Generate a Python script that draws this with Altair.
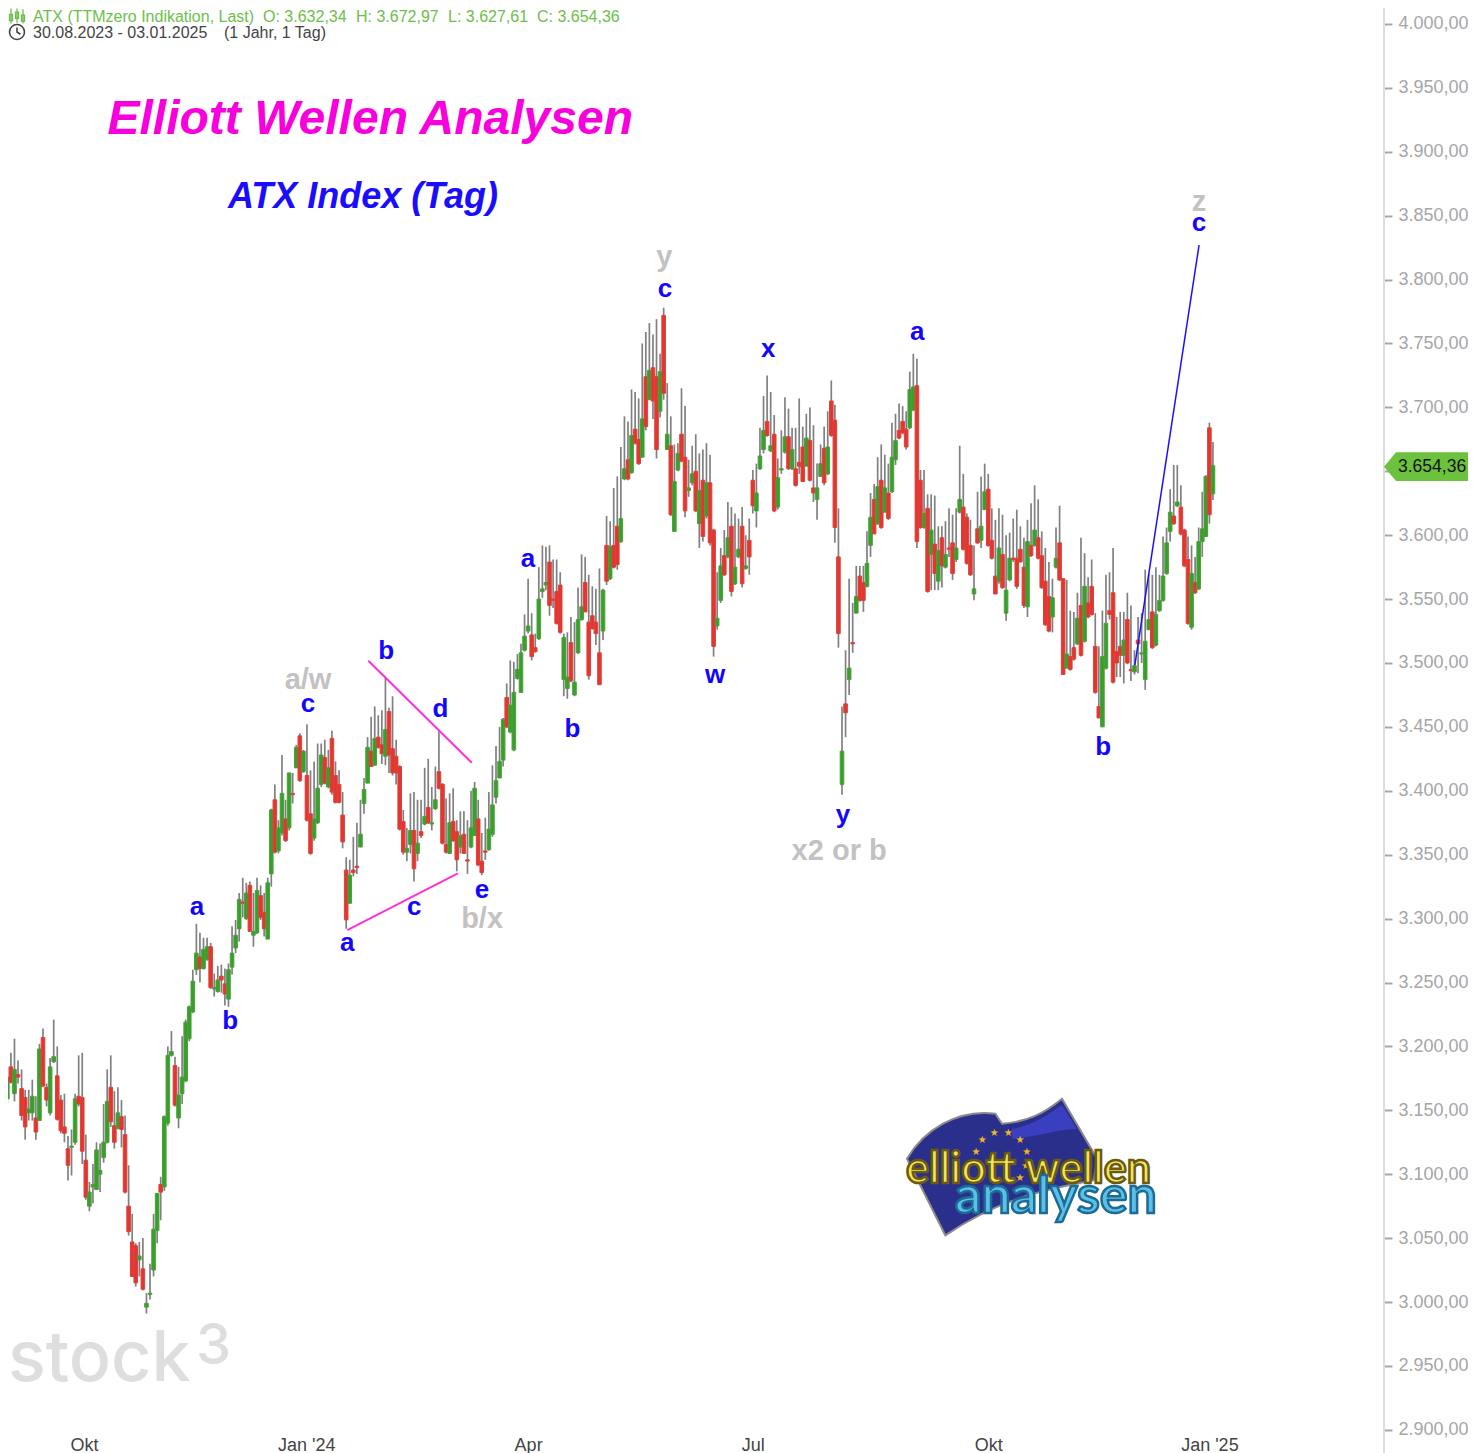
import altair as alt
import pandas as pd

opens = [3153,
3170,3159,3184,3163,3178,3167,3160,3148,3148,3144,
3142,3207,3168,3148,3188,3177,3158,3137,3120,3121,
3125,3161,3160,3111,3075,3090,3088,3100,3113,3125,
3168,3138,3136,3145,3131,3075,3047,3044,3033,3026,
2996,3006,3025,3056,3092,3090,3140,3193,3185,3144,
3163,3173,3206,3227,3260,3270,3261,3268,3278,3245,
3243,3255,3249,3237,3262,3277,3292,3313,3300,3326,
3287,3289,3318,3305,3284,3335,3393,3353,3367,3378,
3371,3398,3418,3443,3415,3412,3382,3363,3375,3405,
3426,3403,3441,3412,3405,3381,3338,3312,3338,3341,
3356,3390,3406,3431,3420,3442,3436,3427,3462,3433,
3427,3419,3376,3352,3358,3369,3351,3368,3374,3387,
3374,3386,3415,3405,3358,3351,3376,3368,3356,3366,
3346,3356,3365,3378,3345,3353,3354,3366,3395,3410,
3424,3473,3446,3432,3488,3477,3510,3525,3522,3512,
3519,3556,3561,3579,3550,3556,3561,3487,3480,3516,
3475,3508,3534,3563,3532,3537,3532,3508,3525,3592,
3566,3592,3607,3595,3644,3659,3649,3683,3675,3661,
3724,3706,3731,3724,3697,3772,3667,3670,3603,3651,
3679,3661,3635,3641,3650,3609,3643,3615,3641,3604,
3529,3549,3584,3583,3607,3562,3583,3607,3574,3596,
3643,3619,3652,3667,3689,3666,3679,3622,3651,3665,
3677,3652,3652,3657,3669,3654,3674,3637,3628,3646,
3668,3648,3705,3690,3583,3405,3468,3487,3516,3539,
3568,3563,3560,3592,3628,3609,3643,3618,3633,3634,
3659,3682,3689,3683,3684,3698,3717,3643,3606,3621,
3585,3593,3564,3598,3575,3590,3594,3581,3618,3622,
3614,3592,3554,3605,3596,3620,3636,3596,3568,3564,
3585,3539,3565,3582,3582,3589,3575,3544,3592,3592,
3598,3584,3564,3552,3536,3575,3594,3566,3496,3505,
3512,3515,3545,3517,3547,3560,3513,3466,3450,3496,
3541,3555,3509,3513,3506,3534,3495,3493,3518,3507,
3487,3526,3540,3514,3541,3549,3570,3603,3615,3623,
3622,3604,3581,3528,3563,3558,3595,3599,3684,3632.34]

highs = [3180,
3184,3184,3195,3206,3189,3182,3166,3166,3174,3161,
3202,3214,3171,3191,3221,3200,3162,3163,3130,3135,
3163,3193,3195,3131,3094,3108,3125,3124,3155,3182,
3193,3165,3168,3158,3146,3107,3069,3046,3047,3050,
3007,3030,3069,3085,3098,3146,3200,3212,3192,3184,
3208,3221,3232,3260,3296,3289,3285,3285,3281,3257,
3263,3264,3261,3265,3294,3299,3320,3332,3328,3329,
3320,3332,3326,3320,3332,3386,3405,3377,3428,3393,
3414,3414,3436,3445,3432,3452,3416,3423,3437,3437,
3440,3432,3447,3423,3416,3399,3348,3346,3364,3375,
3393,3410,3442,3458,3466,3459,3463,3489,3465,3474,
3440,3420,3385,3371,3398,3399,3393,3393,3418,3425,
3403,3419,3447,3406,3394,3398,3402,3377,3384,3384,
3377,3400,3407,3393,3367,3379,3399,3420,3435,3450,
3457,3484,3502,3501,3507,3515,3538,3566,3539,3523,
3575,3592,3591,3592,3581,3581,3571,3523,3524,3536,
3532,3559,3585,3583,3569,3560,3558,3574,3558,3615,
3611,3637,3646,3669,3693,3689,3714,3712,3707,3750,
3759,3766,3757,3769,3742,3778,3719,3693,3671,3672,
3715,3701,3659,3670,3679,3664,3667,3672,3663,3605,
3571,3590,3604,3626,3622,3617,3613,3622,3600,3613,
3651,3656,3684,3709,3725,3712,3694,3660,3682,3708,
3699,3684,3684,3707,3685,3695,3700,3686,3656,3671,
3685,3697,3721,3702,3621,3466,3510,3566,3547,3576,
3576,3576,3603,3633,3640,3661,3671,3663,3656,3688,
3695,3703,3701,3697,3728,3742,3738,3651,3651,3632,
3632,3631,3607,3607,3611,3621,3616,3621,3670,3648,
3617,3612,3592,3634,3646,3656,3648,3621,3612,3621,
3616,3600,3602,3613,3620,3607,3598,3612,3625,3639,
3628,3603,3590,3579,3566,3606,3623,3566,3565,3541,
3540,3555,3598,3586,3567,3581,3539,3513,3541,3569,
3571,3590,3536,3540,3540,3555,3545,3510,3536,3539,
3573,3570,3569,3575,3569,3599,3606,3636,3655,3655,
3639,3605,3599,3592,3583,3606,3634,3647,3688,3672.97]

lows = [3133,
3145,3156,3171,3157,3171,3142,3127,3142,3142,3127,
3142,3168,3153,3146,3187,3142,3132,3125,3095,3099,
3123,3153,3108,3080,3071,3077,3088,3086,3109,3124,
3137,3120,3135,3121,3085,3052,3020,3012,3020,3009,
2991,3002,3020,3046,3064,3087,3138,3192,3153,3136,
3155,3172,3204,3226,3256,3250,3260,3267,3245,3239,
3242,3242,3232,3231,3256,3273,3282,3301,3299,3290,
3278,3288,3299,3286,3284,3325,3351,3351,3365,3360,
3369,3390,3418,3407,3414,3376,3350,3361,3374,3403,
3405,3402,3397,3390,3390,3355,3292,3312,3333,3335,
3356,3382,3406,3419,3420,3433,3421,3420,3414,3412,
3405,3369,3350,3345,3351,3329,3345,3363,3373,3374,
3369,3385,3401,3358,3351,3351,3360,3337,3351,3351,
3335,3355,3365,3341,3334,3346,3353,3364,3390,3410,
3419,3449,3445,3431,3487,3477,3509,3523,3502,3508,
3518,3551,3557,3537,3543,3530,3523,3474,3472,3485,
3474,3507,3533,3540,3487,3526,3514,3483,3518,3561,
3565,3574,3573,3594,3643,3643,3648,3671,3655,3661,
3682,3706,3691,3660,3692,3706,3667,3615,3603,3650,
3657,3614,3630,3639,3618,3590,3595,3613,3592,3505,
3526,3547,3568,3582,3552,3561,3582,3559,3573,3569,
3617,3606,3651,3664,3677,3665,3618,3620,3648,3664,
3651,3651,3638,3648,3642,3654,3642,3626,3612,3646,
3639,3647,3677,3594,3512,3397,3442,3475,3508,3539,
3548,3540,3559,3583,3601,3608,3605,3618,3612,3633,
3655,3675,3679,3667,3683,3697,3590,3605,3605,3555,
3557,3557,3557,3559,3574,3583,3565,3579,3617,3588,
3577,3568,3549,3593,3590,3620,3591,3581,3554,3562,
3558,3533,3564,3579,3558,3579,3543,3536,3583,3591,
3581,3558,3529,3524,3524,3574,3564,3491,3496,3494,
3502,3514,3505,3516,3535,3537,3476,3457,3450,3495,
3534,3484,3489,3489,3484,3499,3486,3491,3492,3500,
3479,3526,3511,3513,3540,3548,3569,3595,3608,3622,
3600,3575,3530,3526,3554,3557,3583,3599,3609,3627.61]

closes = [3163,
3148,3176,3172,3182,3176,3146,3137,3151,3161,3133,
3198,3169,3158,3184,3192,3143,3134,3132,3107,3122,
3159,3155,3118,3082,3086,3092,3119,3103,3125,3157,
3141,3125,3148,3135,3086,3055,3020,3015,3036,3010,
2999,3007,3057,3085,3086,3145,3193,3196,3154,3162,
3176,3219,3231,3251,3273,3261,3276,3278,3246,3246,
3252,3252,3241,3260,3273,3287,3315,3312,3320,3290,
3290,3322,3301,3292,3328,3385,3352,3371,3398,3361,
3414,3397,3434,3408,3431,3377,3351,3378,3402,3428,
3406,3418,3399,3391,3391,3360,3299,3334,3336,3340,
3366,3401,3434,3419,3441,3434,3429,3448,3428,3414,
3414,3370,3352,3355,3369,3339,3359,3365,3380,3375,
3375,3393,3402,3359,3352,3375,3361,3346,3365,3351,
3345,3371,3402,3342,3336,3352,3370,3389,3408,3423,
3456,3450,3467,3477,3495,3508,3521,3529,3505,3509,
3550,3558,3563,3545,3549,3531,3524,3520,3489,3486,
3485,3534,3544,3540,3490,3527,3523,3483,3557,3564,
3591,3575,3577,3613,3652,3644,3678,3672,3656,3691,
3685,3729,3705,3667,3728,3711,3679,3616,3642,3664,
3658,3619,3637,3648,3619,3635,3599,3641,3594,3513,
3535,3576,3569,3598,3556,3575,3589,3562,3576,3583,
3623,3633,3662,3682,3678,3670,3619,3645,3652,3677,
3652,3667,3639,3654,3642,3676,3643,3633,3637,3656,
3641,3669,3678,3606,3523,3431,3461,3496,3515,3552,
3549,3549,3578,3614,3601,3638,3606,3637,3613,3661,
3674,3676,3680,3669,3714,3716,3595,3606,3617,3556,
3604,3570,3588,3576,3585,3589,3570,3590,3628,3589,
3578,3569,3558,3594,3607,3634,3592,3582,3554,3590,
3559,3557,3582,3581,3560,3579,3545,3595,3584,3604,
3582,3559,3530,3525,3551,3582,3565,3491,3507,3495,
3503,3535,3506,3560,3536,3538,3477,3457,3505,3531,
3538,3485,3500,3506,3518,3500,3494,3498,3515,3508,
3517,3534,3512,3538,3549,3568,3594,3618,3609,3626,
3601,3576,3531,3570,3555,3595,3605,3646,3616,3654.36]

tick_idx = [23.5, 85.8, 148, 211, 277, 339]
tick_labels = ["Okt", "Jan '24", "Apr", "Jul", "Okt", "Jan '25"]
price_ticks = list(range(2900, 4001, 50))

wave_blue = ["a","b","c","a","b","c","d","e","a","b","c","w","x","y","a","b","c"]
wave_blue_i = [55.2,64.5,86.3,97.3,108.2,116.1,123.4,135.1,148,160.4,186.4,200.4,215.3,236.3,257.1,309.2,336.1]
wave_blue_p = [3309,3220,3468,3281,3509,3309,3464,3322,3581,3448,3793,3491,3746,3381,3759,3434,3844]
wave_grey = ["a/w","b/x","y","x2 or b","z"]
wave_grey_i = [86.3,135.1,186.2,235.2,336.1]
wave_grey_p = [3487,3300,3818,3353,3861]

trend_upper_i, trend_upper_p = [103.2,132.2], [3501.8,3422]
trend_lower_i, trend_lower_p = [97.3,128.3], [3291,3335.4]
target_i, target_p = [318.1,336.1], [3498.4,3827]

candles = pd.DataFrame({"i": range(len(opens)), "o": opens, "h": highs, "l": lows, "c": closes})
candles["dir"] = ["up" if c >= o else "down" for o, c in zip(opens, closes)]

de_fmt = "replace(replace(replace(format(datum.value,',.2f'),',','#'),'.',','),'#','.')"
x_expr = "[" + ",".join(f'"{t}"' for t in tick_labels) + "][indexof([" + ",".join(map(str, tick_idx)) + "],datum.value)]"
FONT = "Liberation Sans"

x_scale = alt.Scale(domain=[2.187, 387.95], nice=False, zero=False, padding=0)
y_scale = alt.Scale(domain=[2898.3, 4012.5], nice=False, zero=False, padding=0)
x_axis = alt.Axis(values=tick_idx, labelExpr=x_expr, title=None, domain=False, ticks=False, grid=False,
                  labelFont=FONT, labelFontSize=18, labelColor="#444444", labelPadding=13, labelBaseline="middle",
                  labelOverlap=False, labelFlush=False)
y_axis = alt.Axis(values=price_ticks, labelExpr=de_fmt, title=None, orient="right", domain=False, grid=False,
                  tickColor="#a8a8a8", tickSize=8, tickWidth=2, labelPadding=6, labelFont=FONT, labelFontSize=18,
                  labelColor="#a6a6a6", labelOverlap=False, labelFlush=False)


def X(f="i"):
    return alt.X(f"{f}:Q", scale=x_scale, axis=x_axis)


def Y(f):
    return alt.Y(f"{f}:Q", scale=y_scale, axis=y_axis)


def px(v):
    return alt.value(v - 8)


wick = alt.Chart(candles).mark_rule(color="#808080", strokeWidth=1.7, clip=True).encode(x=X(), y=Y("l"), y2="h:Q")
colors = alt.Scale(domain=["up", "down"], range=["#37a02d", "#e5352f"])
edges = alt.Scale(domain=["up", "down"], range=["#4e9e3a", "#d9443c"])
body = alt.Chart(candles).mark_bar(size=3.6, strokeWidth=1, orient="vertical", clip=True).encode(
    x=X(), y=Y("o"), y2="c:Q",
    fill=alt.Fill("dir:N", scale=colors, legend=None),
    stroke=alt.Stroke("dir:N", scale=edges, legend=None),
)


def seg(xs, ys, color, width):
    d = pd.DataFrame({"i": xs, "p": ys})
    return alt.Chart(d).mark_line(color=color, strokeWidth=width).encode(x=X(), y=Y("p"))


blue_df = pd.DataFrame({"i": wave_blue_i, "p": wave_blue_p, "t": wave_blue})
grey_df = pd.DataFrame({"i": wave_grey_i, "p": wave_grey_p, "t": wave_grey})
blue_txt = alt.Chart(blue_df).mark_text(font=FONT, fontWeight="bold", fontSize=26, color="#1405ff", baseline="middle").encode(
    x=X(), y=Y("p"), text="t:N")
grey_txt = alt.Chart(grey_df).mark_text(font=FONT, fontWeight="bold", fontSize=29, color="#c2c2c2", baseline="middle").encode(
    x=X(), y=Y("p"), text="t:N")


def label(text, x, y, size, color, **kw):
    d = pd.DataFrame({"t": [text]})
    opts = dict(font=FONT, fontSize=size, color=color, align="left", baseline="middle")
    opts.update(kw)
    return alt.Chart(d).mark_text(**opts).encode(x=px(x), y=px(y), text="t:N")


def glyph(path, x, y, half, **kw):
    d = pd.DataFrame({"k": [0]})
    return alt.Chart(d).mark_point(shape=path, size=4 * half * half, opacity=1, **kw).encode(x=px(x), y=px(y))


GREEN = "#6cc04a"
header = [
    label("ATX (TTMzero Indikation, Last)", 33, 17, 16, GREEN),
    label("O: 3.632,34", 263, 17, 16, GREEN),
    label("H: 3.672,97", 356, 17, 16, GREEN),
    label("L: 3.627,61", 448, 17, 16, GREEN),
    label("C: 3.654,36", 537, 17, 16, GREEN),
    label("30.08.2023 - 03.01.2025", 33, 33, 16, "#444444"),
    label("(1 Jahr, 1 Tag)", 224, 33, 16, "#444444"),
    glyph("M-1,-.2 L-1,.6 L-.6,.6 L-.6,-.2 Z M-.8,-1 L-.8,1 M-.2,-.5 L-.2,.3 L.2,.3 L.2,-.5 Z M0,-1 L0,.9 M.6,-.1 L.6,.7 L1,.7 L1,-.1 Z M.8,-.9 L.8,1",
          17, 16, 7.5, filled=False, stroke=GREEN, strokeWidth=1.3),
    glyph("M-1,0 A1,1 0 1 1 1,0 A1,1 0 1 1 -1,0 M0,-.6 L0,0 L.45,.3", 17, 32, 7.5, filled=False, stroke="#444444", strokeWidth=1.6),
    label("Elliott Wellen Analysen", 107.5, 119.5, 48, "#f700dd", fontWeight="bold", fontStyle="italic"),
    label("ATX Index (Tag)", 228, 196.5, 36, "#1a0dff", fontWeight="bold", fontStyle="italic"),
]

watermark = [
    label("stock", 8, 1360, 70, "#dedede", font="Inter", fontWeight=500),
    label("3", 196, 1347, 56, "#dedede", font="Inter", fontWeight=500),
]

flag_path = ("M-1,-.083 C-.833,-.367 -.5,-.583 -.117,-.533 L-.05,-.433 "
             "C.2,-.45 .367,-.533 .55,-.683 L.9,-.083 L.867,.133 "
             "C.333,.233 -.1,.333 -.617,.683 Z")
band_path = "M.05,-.38 C.25,-.42 .38,-.5 .55,-.62 L.7,-.38 C.5,-.38 .3,-.3 .05,-.28 Z"
star_xy = [(307,180),(343,160),(385,160),(420,180),(440,215),(437,258),(420,293),(288,215)]
stars_df = pd.DataFrame({"sx": [880 + a / 3 - 8 for a, _ in star_xy], "sy": [1080 + b / 3 - 8 for _, b in star_xy]})
logo = [
    glyph(flag_path, 1007, 1167, 100, filled=True, fill="#2b2f8c", stroke="#8a8a8a", strokeWidth=2),
    glyph(band_path, 1007, 1167, 100, filled=True, fill="#3a3fc0", strokeWidth=0),
    alt.Chart(stars_df).mark_text(text="★", font="DejaVu Sans", fontSize=10, color="#f2b81e", baseline="middle").encode(
        x=alt.X("sx:Q", scale=None), y=alt.Y("sy:Q", scale=None)),
    label("elliott wellen", 906, 1170, 43, "#f3e659", font="Lato", fontWeight="bold", stroke="#6b5a12", strokeWidth=2.5),
    label("analysen", 955, 1197, 52, "#5cc0e6", font="Lato", fontWeight="bold", stroke="#1c6a96", strokeWidth=2.5),
]

axis_line = alt.Chart(pd.DataFrame({"k": [0]})).mark_rule(color="#dddddd", strokeWidth=2).encode(
    x=px(1384), y=alt.value(0), y2=alt.value(1445))
tag = [
    glyph("M-1,0 L-.714,-.343 L1,-.343 L1,.343 L-.714,.343 Z", 1426, 466.7, 42, filled=True, fill="#6cc23c", strokeWidth=0),
    label("3.654,36", 1398, 466.7, 17.5, "#111111"),
]

chart = alt.layer(
    *watermark, axis_line, wick, body,
    seg(trend_upper_i, trend_upper_p, "#ff30d8", 2),
    seg(trend_lower_i, trend_lower_p, "#ff30d8", 2),
    seg(target_i, target_p, "#1a10ff", 1.5),
    blue_txt, grey_txt, *header, *logo, *tag,
).resolve_scale(x="shared", y="shared").properties(
    width=1376, height=1424,
    padding={"left": 0, "top": 0, "right": 84, "bottom": 21},
    autosize=alt.AutoSizeParams(type="none"),
    background="#ffffff",
).configure_view(stroke=None)

chart.save("out.html", embed_options={"renderer": "svg", "actions": False})
